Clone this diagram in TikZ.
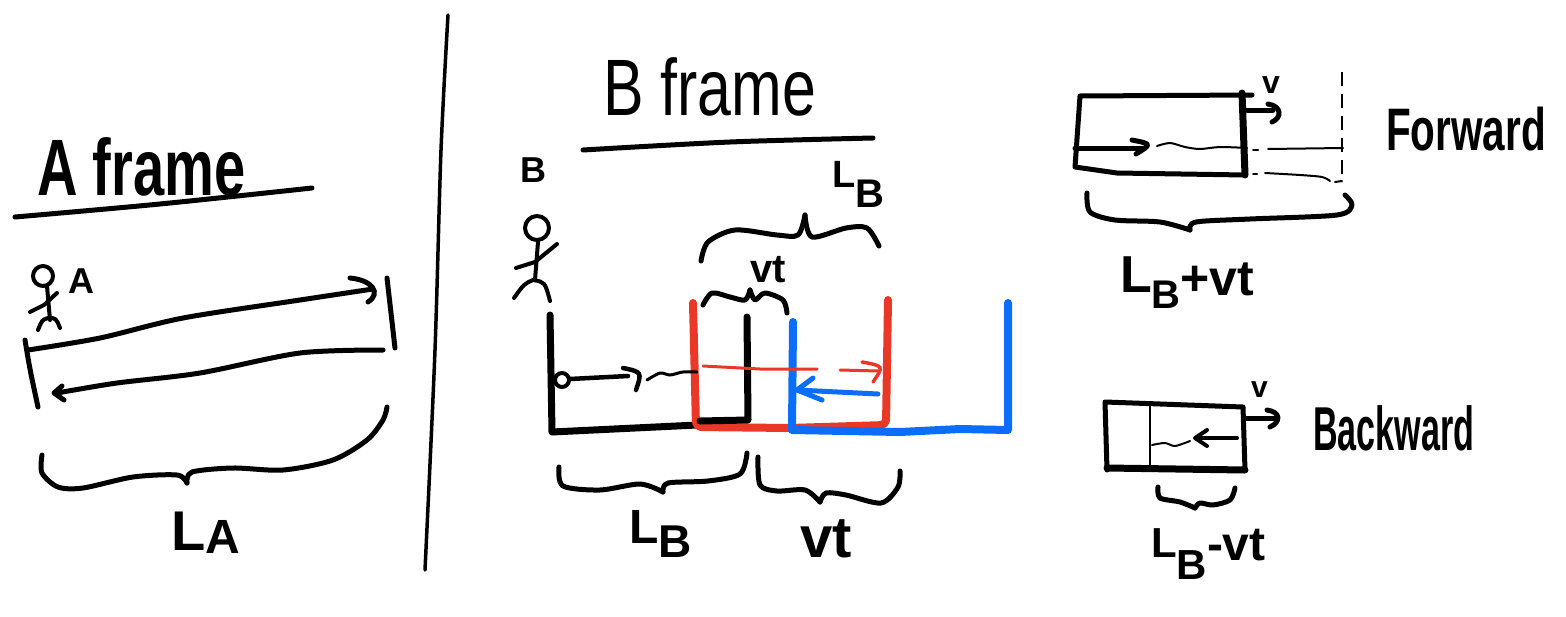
\documentclass[tikz,border=0pt]{standalone}
\usepackage{fontspec}
\setmainfont{Liberation Sans}
\usepackage{graphicx}
\definecolor{mred}{RGB}{234,56,40}
\definecolor{mblue}{RGB}{10,110,250}
\newcommand{\myfs}[1]{\fontsize{#1}{#1}\selectfont}
\tikzset{
  ink/.style={line width=5pt, line cap=round, line join=round},
  heavy/.style={line width=7pt, line cap=round, line join=round},
  fine/.style={line width=2pt, line cap=round, line join=round},
  fig/.style={line width=4pt, line cap=round, line join=round},
  redwall/.style={mred, line width=8pt, line cap=round, line join=round},
  bluewall/.style={mblue, line width=8pt, line cap=round, line join=round},
  lbl/.style={inner sep=0pt, outer sep=0pt, anchor=base west},
}
\begin{document}
\begin{tikzpicture}[x=1pt,y=-1pt]
\fill[white] (0,0) rectangle (1566,616);
\useasboundingbox (0,0) rectangle (1566,616);

% ---------------- A frame panel ----------------
\node[lbl] (aframe) at (37,195) {\myfs{80}\bfseries\scalebox{0.70}[1]{A frame}};
\draw[ink] plot[smooth] coordinates {(15,217) (160,204) (312,188)};
% stick figure A
\draw[fig] (43,276) circle (10);
\draw[fig] (47,286) -- (50,320);
\draw[fig] (30,312) -- (44,305) -- (57,293);
\draw[fig] (38,330) .. controls (42,320) .. (48,318) .. controls (56,318) .. (60,328);
\node[lbl] (alabel) at (68,293) {\myfs{36}\bfseries A};
% light path
\draw[ink] plot[smooth] coordinates {(28,350) (100,338) (183,318) (300,300) (373,289)};
\draw[ink] (350,278) .. controls (372,280) and (382,293) .. (368,302);
\draw[ink] (25,340) .. controls (30,370) .. (38,407);
\draw[ink] (387,278) -- (395,348);
\draw[ink] plot[smooth] coordinates {(383,350) (300,353) (200,373) (117,383) (57,393)};
\draw[ink] (62,386) -- (54,393) -- (64,400);
% brace LA
\draw[ink] plot[smooth] coordinates {(42,455) (42,473) (58,487) (83,488) (133,477) (177,475) (187,483)};
\draw[ink] plot[smooth] coordinates {(187,483) (192,472) (233,468) (283,470) (333,460) (367,440) (383,420) (387,407)};
\node[lbl] (la) at (171,550) {\myfs{56}\bfseries L\raisebox{-3pt}{\myfs{48}A}};

% divider
\draw[line width=3.5pt, line cap=round] plot[smooth] coordinates {(448,15) (441,150) (435,350) (425,570)};

% ---------------- B frame panel ----------------
\node[lbl] (bframe) at (603,115) {\myfs{80}\scalebox{0.76}[1]{B frame}};
\draw[ink] plot[smooth] coordinates {(583,150) (730,142) (873,138)};
\node[lbl] (blabel) at (520,182) {\myfs{36}\bfseries B};
\node[lbl] (lbtop) at (832,187) {\myfs{38}\bfseries L\raisebox{-20pt}{\myfs{40}B}};
% stick figure B
\draw[fig] (537,228) circle (12);
\draw[fig] (538,242) -- (535,280);
\draw[fig] (516,268) -- (535,262) -- (557,244);
\draw[fig] (514,298) .. controls (524,284) .. (533,280) .. controls (545,282) .. (550,301);
% upper braces
\draw[ink] plot[smooth] coordinates {(701,261) (708,242) (735,230) (777,235) (798,235) (805,215)};
\draw[ink] plot[smooth] coordinates {(805,215) (812,237) (846,228) (867,228) (879,246)};
\node[lbl] (vttop) at (750,282) {\myfs{40}\bfseries vt};
\draw[ink] plot[smooth] coordinates {(703,305) (712,293) (730,297) (745,300) (750,290)};
\draw[ink] plot[smooth] coordinates {(750,290) (755,300) (765,293) (783,300) (787,313)};
% black box
\draw[heavy] (550,315) -- (552,432) -- (697,425);
% red box
\draw[redwall, rounded corners=6pt] (693,303) -- (696,427) -- (790,428) -- (886,425) -- (888,300);
% black inner wall
\draw[heavy] (747,317) -- (748,420) -- (700,421);
% blue box
\draw[bluewall] (793,322) -- (792,430) -- (900,432) -- (960,429) -- (1008,430) -- (1008,303);
% source and signal
\draw[line width=4pt] (562,380) circle (7);
\draw[line width=4.5pt, line cap=round] (570,379) -- (628,376);
\draw[line width=4.5pt, line cap=round] (623,368) .. controls (642,372) .. (636,390);
\draw[line width=3pt, line cap=round] plot[smooth] coordinates {(647,380) (660,373) (670,375) (683,372) (697,372)};
\draw[mred, line width=3pt, line cap=round] (703,366) -- (760,369) -- (817,369);
\draw[mred, line width=3pt, line cap=round] (840,370) -- (878,371);
\draw[mred, line width=3.5pt, line cap=round] (862,362) .. controls (884,366) .. (873,382);
\draw[mblue, line width=5pt, line cap=round] (878,394) -- (797,390);
\draw[mblue, line width=5pt, line cap=round, line join=round] (813,378) -- (797,390) -- (822,400);
% lower braces
\draw[ink] plot[smooth] coordinates {(559,467) (563,486) (600,490) (640,484) (663,492)};
\draw[ink] plot[smooth] coordinates {(663,492) (668,483) (708,481) (740,474) (747,453)};
\draw[ink] plot[smooth] coordinates {(758,457) (760,485) (777,491) (805,490) (820,502)};
\draw[ink] plot[smooth] coordinates {(820,502) (826,493) (846,495) (881,503) (898,487) (900,471)};
\node[lbl] (lbbot) at (629,543) {\myfs{48}\bfseries L\raisebox{-14pt}{\myfs{46}B}};
\node[lbl] (vtbot) at (800,557) {\myfs{58}\bfseries vt};

% ---------------- Forward ----------------
\draw[ink] (1252,95) -- (1080,96) -- (1075,167) -- (1117,173) -- (1245,175);
\draw[heavy] (1242,93) -- (1245,175);
\draw[ink] (1247,110) -- (1273,110);
\draw[ink] (1268,104) .. controls (1282,106) and (1282,118) .. (1272,122);
\node[lbl] (vf) at (1262,93) {\myfs{32}\bfseries v};
\draw[line width=1.5pt, dash pattern=on 14pt off 8pt] (1342,72) -- (1342,182);
\draw[ink] (1075,148) -- (1145,148);
\draw[ink] (1132,140) .. controls (1152,144) .. (1136,154);
\draw[fine] plot[smooth] coordinates {(1157,146) (1170,143) (1185,147) (1200,149) (1220,147) (1247,148)};
\draw[fine] (1253,150) -- (1258,150);
\draw[fine] (1268,149) -- (1343,148);
\draw[fine] (1253,174) -- (1257,174);
\draw[fine] plot[smooth] coordinates {(1265,173) (1300,175) (1322,177) (1330,181)};
\draw[fine] (1335,182) -- (1342,181);
\draw[ink] plot[smooth] coordinates {(1087,193) (1090,212) (1115,220) (1160,222) (1190,230)};
\draw[ink] plot[smooth] coordinates {(1190,230) (1196,222) (1250,219) (1337,215) (1352,205) (1345,195)};
\node[lbl] (lbpvt) at (1120,292) {\myfs{52}\bfseries L\raisebox{-16pt}{\myfs{40}B}\raisebox{-3pt}{\myfs{50}+vt}};
\node[lbl] (fwd) at (1386,150) {\myfs{60}\bfseries\scalebox{0.675}[1]{Forward}};

% ---------------- Backward ----------------
\draw[ink] (1107,470) -- (1105,402) -- (1243,407) -- (1245,470);
\draw[heavy] (1107,468) -- (1245,470);
\draw[fine] (1150,403) -- (1150,467);
\draw[line width=4pt, line cap=round] (1237,438) -- (1197,438);
\draw[line width=4pt, line cap=round, line join=round] (1207,430) -- (1195,438) -- (1207,446);
\draw[fine] plot[smooth] coordinates {(1152,445) (1165,443) (1175,446) (1190,441)};
\draw[ink] (1245,418) -- (1275,418);
\draw[ink] (1267,410) .. controls (1281,412) and (1281,422) .. (1270,427);
\node[lbl] (vb) at (1251,397) {\myfs{30}\bfseries v};
\draw[ink] plot[smooth] coordinates {(1158,487) (1160,498) (1180,502) (1195,508)};
\draw[ink] plot[smooth] coordinates {(1195,508) (1200,503) (1213,505) (1230,500) (1235,488)};
\node[lbl] (lbmvt) at (1151,557) {\myfs{42}\bfseries L\raisebox{-22pt}{\myfs{42}B}\raisebox{-3pt}{\myfs{48}-vt}};
\node[lbl] (bwd) at (1313,450) {\myfs{62}\bfseries\scalebox{0.55}[1]{Backward}};
\end{tikzpicture}
\end{document}
